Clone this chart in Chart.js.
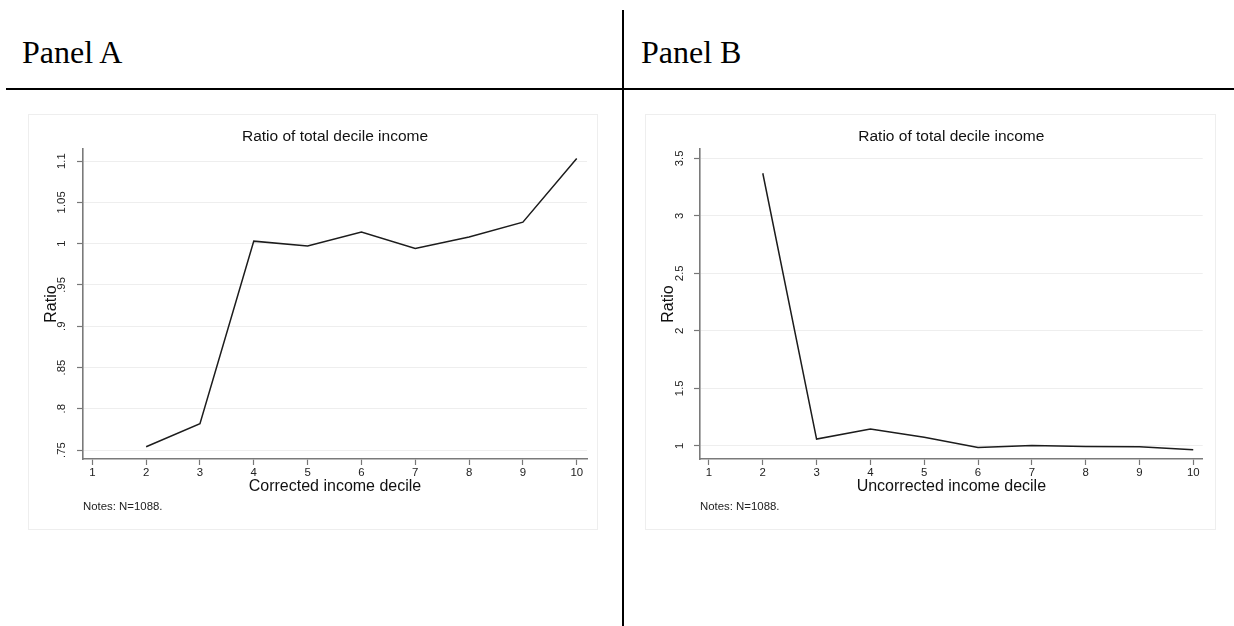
<!DOCTYPE html>
<html>
<head>
<meta charset="utf-8">
<script src="https://cdn.jsdelivr.net/npm/chart.js@4.4.1/dist/chart.umd.min.js"></script>
<style>
    html, body { margin: 0; padding: 0; background: #fff; }
    body { width: 1234px; height: 626px; position: relative; overflow: hidden; }
    .panel-label { position: absolute; top: 36px; font: 32px/32px "Liberation Serif", "Times New Roman", serif; color: #000; }
    .hline { position: absolute; left: 6px; right: 0; top: 88px; height: 2px; background: #000; }
    .vline { position: absolute; left: 622px; top: 10px; bottom: 0; width: 2px; background: #000; }
    .graph { position: absolute; top: 114px; height: 416px; box-shadow: inset 0 0 0 1px #eeeeee; }
    .graph canvas { position: absolute; left: 0; top: 0; }
</style>
</head>
<body>
<div class="panel-label" style="left:22px">Panel A</div>
<div class="panel-label" style="left:641px">Panel B</div>
<div class="hline"></div>
<div class="vline"></div>

<div class="graph" style="left:28px; width:570px"><canvas id="chartA" width="570" height="416"></canvas></div>
<div class="graph" style="left:645px; width:571px"><canvas id="chartB" width="571" height="416"></canvas></div>

<script>
// deciles on the x axis
const xTicks = [1, 2, 3, 4, 5, 6, 7, 8, 9, 10];

// Panel A - corrected income decile
const decilesA = [2, 3, 4, 5, 6, 7, 8, 9, 10];
const ratioA = [0.754, 0.782, 1.003, 0.997, 1.014, 0.994, 1.008, 1.026, 1.103];
const yTicksA = [0.75, 0.8, 0.85, 0.9, 0.95, 1, 1.05, 1.1];
const yLabelsA = ['.75', '.8', '.85', '.9', '.95', '1', '1.05', '1.1'];

// Panel B - uncorrected income decile
const decilesB = [2, 3, 4, 5, 6, 7, 8, 9, 10];
const ratioB = [3.37, 1.058, 1.145, 1.074, 0.985, 1.003, 0.994, 0.991, 0.965];
const yTicksB = [1, 1.5, 2, 2.5, 3, 3.5];
const yLabelsB = ['1', '1.5', '2', '2.5', '3', '3.5'];

const FONT = '"Liberation Sans", Arial, sans-serif';

function drawPanel(id, xs, ys, yTicks, yLabels, yRange, xRange, xTitle, yTickPad, rightPad) {
    new Chart(document.getElementById(id), {
        type: 'line',
        data: {
            datasets: [{
                data: xs.map((x, i) => ({ x: x, y: ys[i] })),
                borderColor: '#1c1c1c',
                borderWidth: 1.5,
                pointRadius: 0,
                tension: 0,
                fill: false
            }]
        },
        options: {
            responsive: false,
            animation: false,
            layout: { padding: { left: 0, top: 0, right: rightPad, bottom: 0 } },
            plugins: {
                legend: { display: false },
                tooltip: { enabled: false },
                title: {
                    display: true,
                    text: 'Ratio of total decile income',
                    fullSize: false,
                    color: '#111',
                    font: { family: FONT, size: 15.5, weight: 'normal' },
                    padding: { top: 13.4, bottom: 3 }
                },
                subtitle: {
                    display: true,
                    text: 'Notes: N=1088.',
                    position: 'bottom',
                    align: 'start',
                    fullSize: false,
                    color: '#222',
                    font: { family: FONT, size: 11.4 },
                    padding: { top: 2.9, bottom: 16.4 }
                }
            },
            scales: {
                x: {
                    type: 'linear',
                    min: xRange[0],
                    max: xRange[1],
                    afterBuildTicks: s => { s.ticks = xTicks.map(v => ({ value: v })); },
                    afterFit: s => { s.height = 38; },
                    grid: { drawOnChartArea: false, drawTicks: true, tickLength: 6, tickColor: '#777', tickWidth: 1.2 },
                    border: { color: '#7a7a7a', width: 1.6 },
                    ticks: {
                        autoSkip: false, maxRotation: 0, padding: 0.5,
                        color: '#222', font: { family: FONT, size: 11.4 },
                        callback: v => String(v)
                    },
                    title: {
                        display: true, text: xTitle, color: '#111',
                        font: { family: FONT, size: 16 },
                        padding: { top: 0, bottom: 0.7 }
                    }
                },
                y: {
                    min: yRange[0],
                    max: yRange[1],
                    afterBuildTicks: s => { s.ticks = yTicks.map(v => ({ value: v })); },
                    afterFit: s => { s.width = 55; },
                    grid: { color: '#eeeeee', lineWidth: 1, drawTicks: true, tickLength: 6, tickColor: '#777', tickWidth: 1.2 },
                    border: { color: '#7a7a7a', width: 1.6 },
                    ticks: {
                        autoSkip: false, minRotation: 90, maxRotation: 90,
                        crossAlign: 'center', padding: yTickPad,
                        color: '#222', font: { family: FONT, size: 11.4 },
                        callback: (v, i) => yLabels[i]
                    },
                    title: {
                        display: true, text: 'Ratio', color: '#111',
                        font: { family: FONT, size: 16 },
                        padding: { top: 13.6, bottom: 0 }
                    }
                }
            }
        }
    });
}

drawPanel('chartA', decilesA, ratioA, yTicksA, yLabelsA, [0.7391, 1.1146], [0.827, 10.191], 'Corrected income decile', 3.7, 11);
drawPanel('chartB', decilesB, ratioB, yTicksB, yLabelsB, [0.8845, 3.581], [0.833, 10.176], 'Uncorrected income decile', 6, 13.3);
</script>
</body>
</html>
